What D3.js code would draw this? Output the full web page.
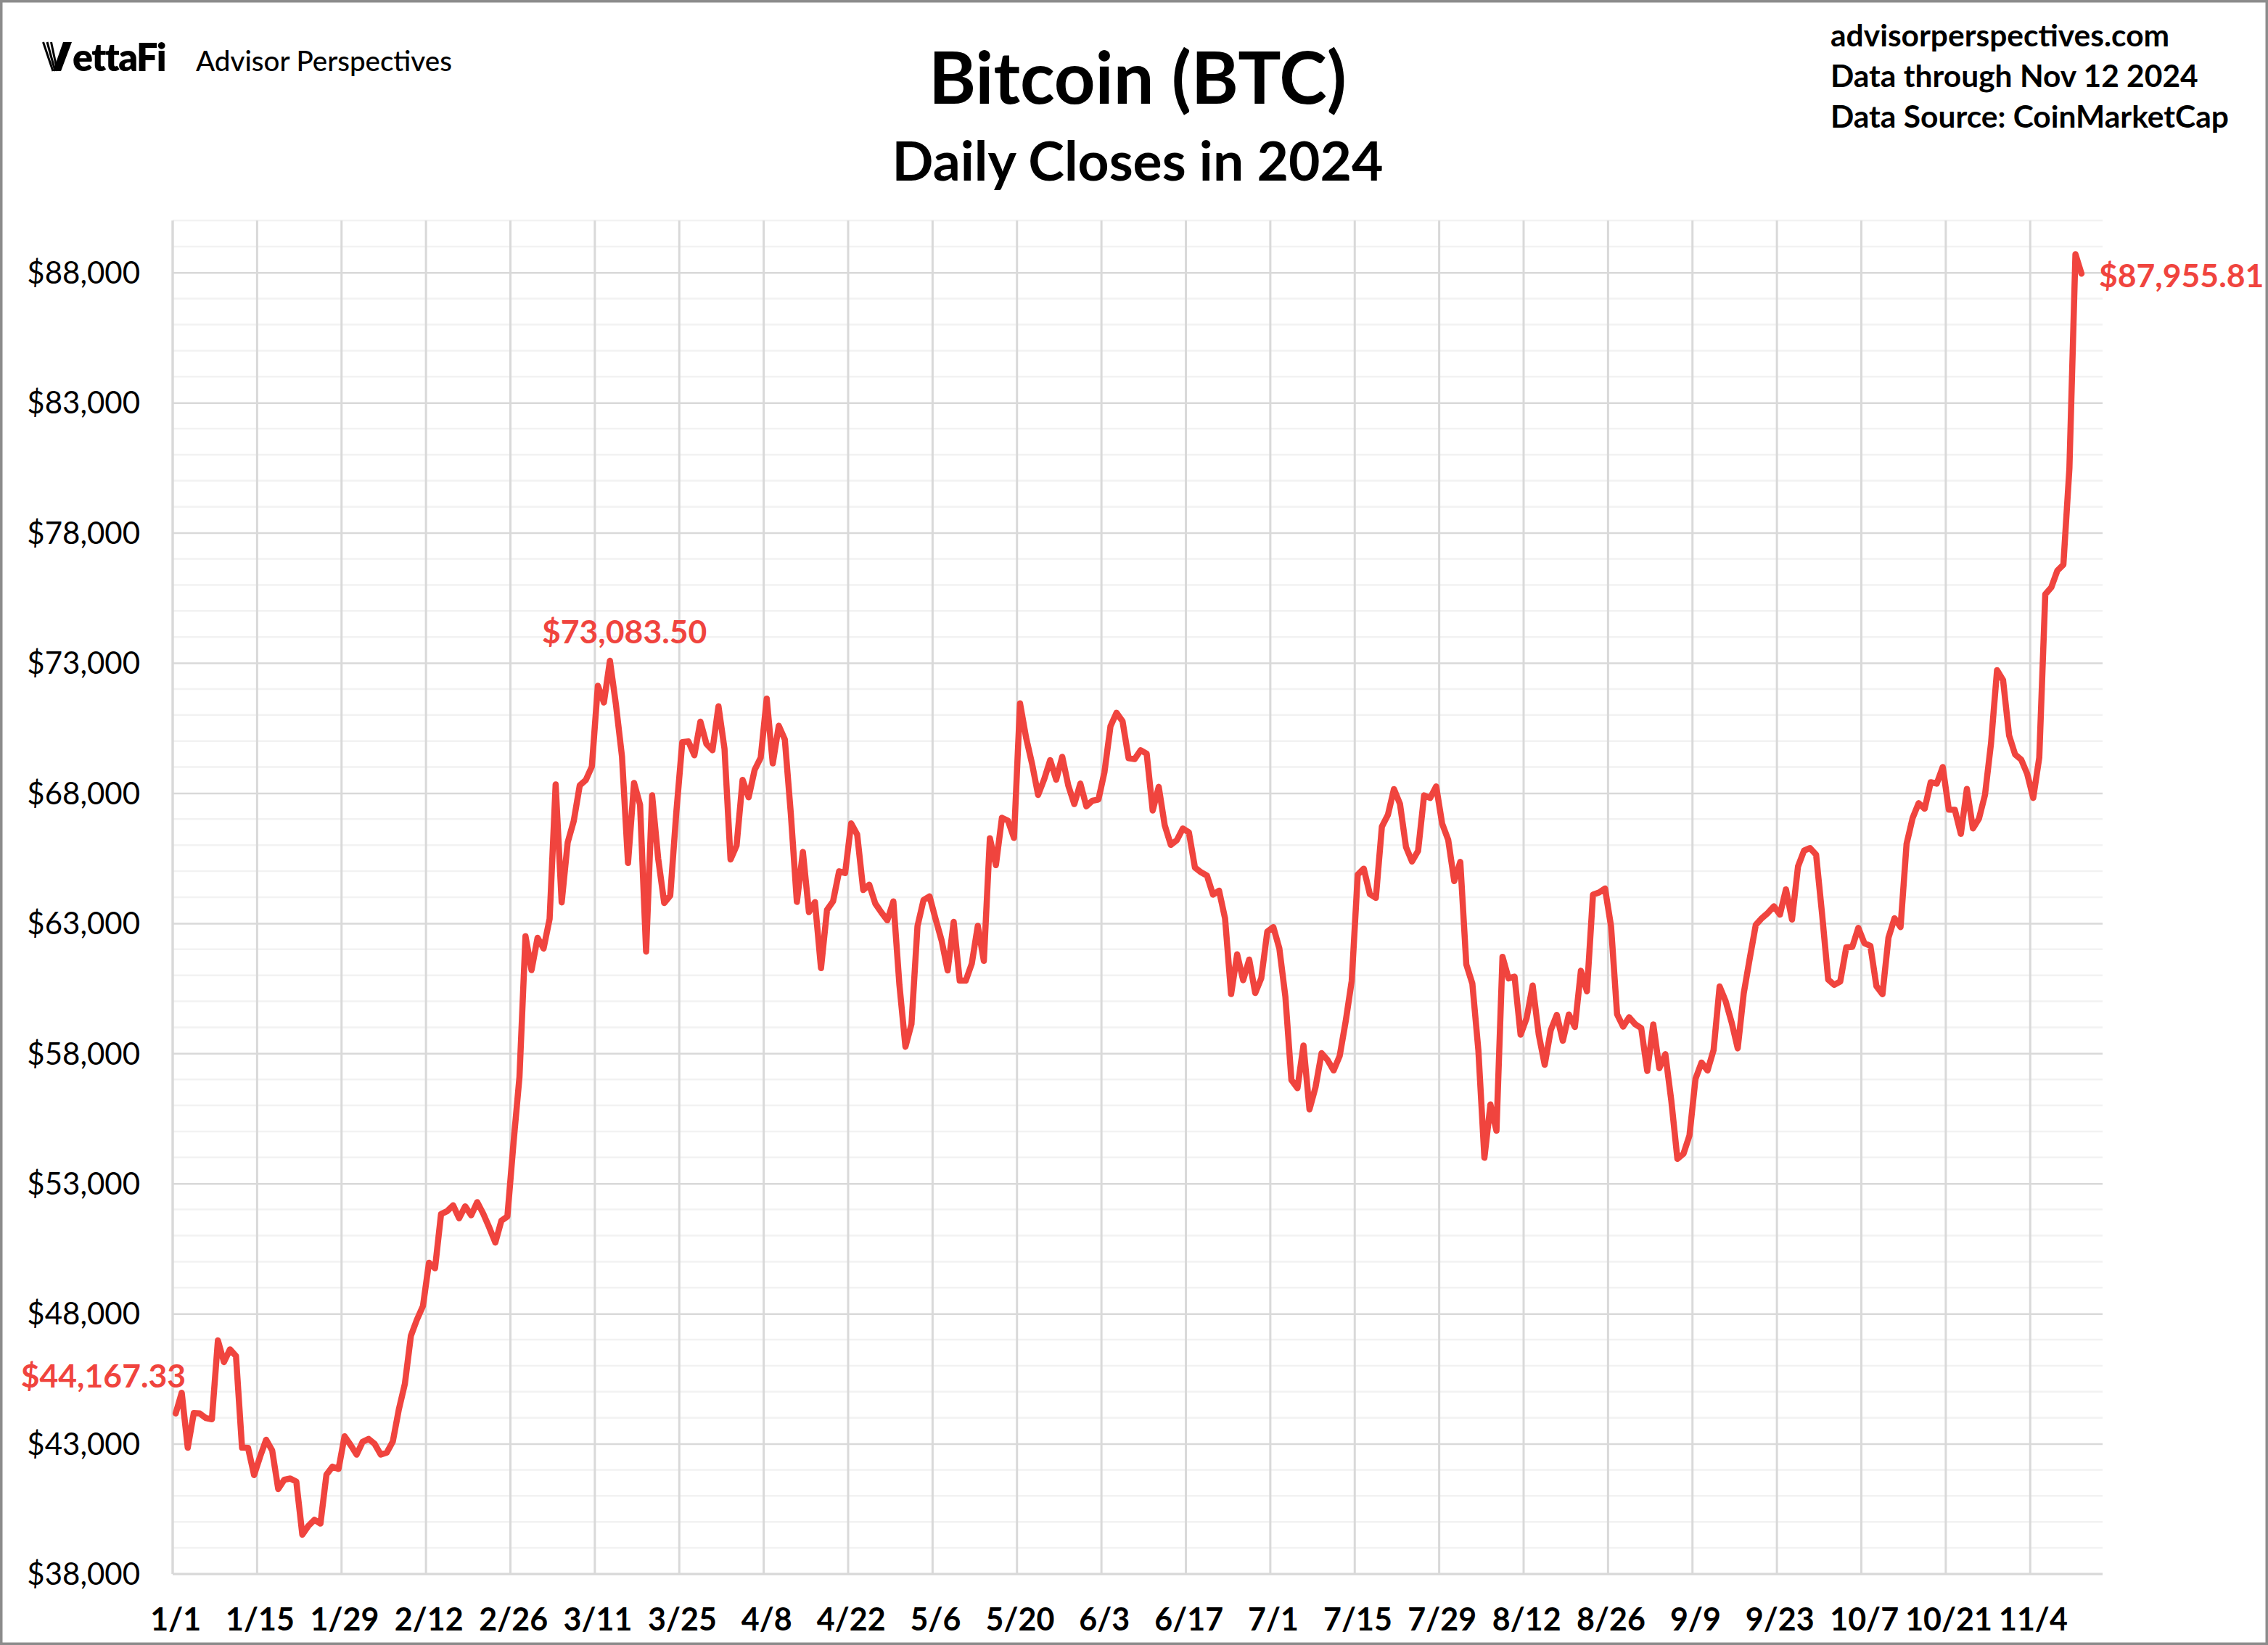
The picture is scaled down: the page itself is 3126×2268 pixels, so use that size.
<!DOCTYPE html>
<html>
<head>
<meta charset="utf-8">
<title>Bitcoin (BTC) - Daily Closes in 2024</title>
<script src="https://cdnjs.cloudflare.com/ajax/libs/d3/7.8.5/d3.min.js"></script>
<style>
  html, body { margin: 0; padding: 0; background: #fff; }
  svg { display: block; }
  text { font-family: Lato, "Open Sans", sans-serif; }
</style>
</head>
<body>
<svg id="chart"></svg>
<script>
// Daily closes (USD), one array per month
const jan = [44167.33, 44957.97, 42848.18, 44179.92, 44162.69, 43989.19, 43943.10, 46970.50, 46139.73, 46627.78,
  46368.59, 42853.17, 42842.38, 41796.27, 42511.97, 43154.95, 42742.65, 41262.06, 41618.41, 41665.59,
  41545.79, 39507.37, 39845.55, 40077.07, 39933.81, 41816.87, 42120.05, 42035.59, 43288.25, 42952.61, 42582.61];
const feb = [43075.77, 43185.86, 42992.25, 42583.58, 42658.67, 43084.67, 44318.22, 45301.57, 47147.20, 47771.28,
  48293.92, 49958.22, 49742.44, 51826.70, 51938.55, 52160.20, 51662.99, 52122.55, 51779.14, 52284.88,
  51839.18, 51304.97, 50731.95, 51571.10, 51733.24, 54522.40, 57085.37, 62504.79, 61198.38];
const mar = [62440.63, 62029.85, 63167.37, 68330.41, 63801.20, 66106.80, 66925.48, 68300.09, 68498.88, 69019.79,
  72123.91, 71481.29, 73083.50, 71396.59, 69403.77, 65315.12, 68390.63, 67548.59, 61912.77, 67913.67,
  65491.39, 63778.76, 64062.20, 67234.17, 69958.81, 69987.84, 69455.34, 70744.95, 69892.83, 69645.30, 71333.65];
const apr = [69702.15, 65446.97, 65980.81, 68508.84, 67837.64, 68896.11, 69362.55, 71631.36, 69139.02, 70587.88,
  70060.61, 67195.87, 63821.47, 65738.73, 63426.21, 63811.86, 61276.69, 63512.75, 63843.57, 64994.44,
  64926.64, 66837.68, 66407.27, 64276.90, 64481.71, 63755.32, 63419.14, 63113.23, 63841.12, 60636.86];
const may = [58254.01, 59123.43, 62889.84, 63891.47, 64031.13, 63161.95, 62334.82, 61187.94, 63049.96, 60792.78,
  60793.71, 61448.39, 62901.45, 61552.79, 66267.49, 65231.58, 67051.88, 66940.80, 66278.37, 71448.20,
  70136.53, 69122.34, 67929.56, 68526.10, 69265.95, 68518.09, 69394.55, 68296.22, 67578.09, 68364.99, 67491.41];
const jun = [67706.94, 67751.60, 68804.78, 70567.77, 71082.82, 70757.16, 69342.59, 69305.77, 69647.99, 69512.28,
  67332.03, 68241.19, 66756.40, 66011.09, 66191.00, 66639.05, 66490.30, 65140.75, 64960.30, 64828.66,
  64096.20, 64252.58, 63180.80, 60277.41, 61804.64, 60811.28, 61604.80, 60320.14, 60887.38, 62678.29];
const jul = [62851.98, 62029.02, 60173.92, 56977.70, 56662.38, 58303.54, 55849.11, 56705.10, 58009.23, 57742.50,
  57344.91, 57899.46, 59231.95, 60787.79, 64870.15, 65097.15, 64118.79, 63974.07, 66710.16, 67163.65,
  68154.52, 67585.25, 65927.67, 65372.13, 65777.23, 67912.06, 67813.34, 68255.87, 66819.91, 66201.02, 64619.25];
const aug = [65357.50, 61415.07, 60680.09, 58116.98, 53991.46, 56034.32, 55027.46, 61710.14, 60880.11, 60945.81,
  58719.48, 59354.52, 60609.57, 58737.27, 57560.10, 58894.11, 59478.97, 58483.96, 59493.45, 59012.80,
  61175.19, 60381.91, 64094.36, 64178.99, 64333.54, 62880.66, 59504.13, 59027.62, 59388.18, 59119.48, 58969.90];
const sep = [57325.49, 59112.48, 57431.02, 57971.54, 56160.49, 53948.75, 54139.69, 54841.57, 57019.53, 57648.71,
  57343.17, 58127.01, 60571.30, 60005.12, 59182.84, 58192.51, 60308.54, 61649.68, 62940.46, 63192.98,
  63394.84, 63648.71, 63329.80, 64301.97, 63143.14, 65181.02, 65790.66, 65887.65, 65635.30, 63329.50];
const oct = [60837.01, 60632.79, 60759.40, 62067.48, 62089.95, 62818.95, 62236.66, 62131.97, 60582.10, 60274.50,
  62445.09, 63193.02, 62851.38, 66046.13, 67041.11, 67612.72, 67399.84, 68418.79, 68362.73, 69001.70,
  67367.85, 67361.41, 66432.20, 68161.05, 66642.41, 67014.70, 67929.30, 69907.76, 72720.49, 72339.54, 70215.19];
const nov = [69482.47, 69289.27, 68741.12, 67811.51, 69359.56, 75639.08, 75904.86, 76545.48, 76778.87, 80474.19,
  88701.48, 87955.81];

const tickLabels = ['1/1', '1/15', '1/29', '2/12', '2/26', '3/11', '3/25', '4/8', '4/22', '5/6', '5/20', '6/3',
  '6/17', '7/1', '7/15', '7/29', '8/12', '8/26', '9/9', '9/23', '10/7', '10/21', '11/4'];
const yTicks = [38000, 43000, 48000, 53000, 58000, 63000, 68000, 73000, 78000, 83000, 88000];

const closes = [].concat(jan, feb, mar, apr, may, jun, jul, aug, sep, oct, nov);

const width = 3126, height = 2268;
const plot = { left: 238, right: 2898, top: 304, bottom: 2170 };
const red = '#f0443e';
const gridMajor = '#d9d9d9', gridMinor = '#f2f2f2';

// the axis runs through 11/15, data ends 11/12
const days = d3.timeDay.range(new Date(2024, 0, 1), new Date(2024, 10, 16));
const data = closes.map((v, i) => ({ date: days[i], value: v }));
const parseTick = d3.timeParse('%Y/%m/%d');
const tickDates = tickLabels.map(t => parseTick('2024/' + t));

const x = d3.scaleBand().domain(days).range([plot.left, plot.right]).paddingInner(0).paddingOuter(0);
const y = d3.scaleLinear().domain([38000, 90000]).range([plot.bottom, plot.top]);
const cx = d => x(d) + x.bandwidth() / 2;

const svg = d3.select('#chart').attr('width', width).attr('height', height);
svg.append('rect').attr('width', width).attr('height', height).attr('fill', '#fff');

// minor horizontal grid
const minorVals = d3.range(39000, 90001, 1000).filter(v => !yTicks.includes(v));
svg.append('g').selectAll('line').data(minorVals).join('line')
  .attr('x1', plot.left).attr('x2', plot.right)
  .attr('y1', d => y(d)).attr('y2', d => y(d))
  .attr('stroke', gridMinor).attr('stroke-width', 2.5);

// vertical grid at category edges
svg.append('g').selectAll('line').data(tickDates).join('line')
  .attr('x1', d => x(d)).attr('x2', d => x(d))
  .attr('y1', plot.top).attr('y2', plot.bottom)
  .attr('stroke', gridMajor).attr('stroke-width', 3);

// y axis with major grid
const yAxis = svg.append('g')
  .attr('transform', `translate(${plot.left},0)`)
  .call(d3.axisLeft(y).tickValues(yTicks).tickFormat(d3.format('$,.0f'))
    .tickSize(-(plot.right - plot.left)).tickPadding(45));
yAxis.select('.domain').remove();
yAxis.selectAll('line').attr('stroke', gridMajor).attr('stroke-width', 2.5);
yAxis.selectAll('text').attr('font-family', 'Lato, sans-serif').attr('font-size', 42)
  .attr('fill', '#000').attr('dy', '0.35em');

// x axis
const xAxis = svg.append('g')
  .attr('transform', `translate(0,${plot.bottom})`)
  .call(d3.axisBottom(x).tickValues(tickDates).tickFormat((d, i) => tickLabels[i])
    .tickSize(0).tickPadding(47));
xAxis.select('.domain').remove();
xAxis.selectAll('text').attr('font-family', 'Lato, sans-serif').attr('font-size', 43)
  .attr('font-weight', 700).attr('fill', '#000');

// axis lines
svg.append('line').attr('x1', plot.left).attr('x2', plot.right)
  .attr('y1', plot.bottom).attr('y2', plot.bottom)
  .attr('stroke', gridMajor).attr('stroke-width', 3);
svg.append('line').attr('x1', plot.left).attr('x2', plot.left)
  .attr('y1', plot.top).attr('y2', plot.bottom)
  .attr('stroke', gridMajor).attr('stroke-width', 3);

// price line
const line = d3.line().x(d => cx(d.date)).y(d => y(d.value));
svg.append('path').datum(data)
  .attr('d', line)
  .attr('fill', 'none').attr('stroke', red).attr('stroke-width', 8.5)
  .attr('stroke-linejoin', 'round').attr('stroke-linecap', 'round');

// value labels: first, peak of March, last
const money = d3.format('$,.2f');
const first = data[0];
const peak = data.slice(0, 120).reduce((a, b) => (b.value > a.value ? b : a));
const last = data[data.length - 1];
const labels = [
  { d: first, dx: 14, dy: -36, anchor: 'end' },
  { d: peak, dx: 20, dy: -24, anchor: 'middle' },
  { d: last, dx: 24, dy: 19, anchor: 'start' }
];
svg.append('g').selectAll('text').data(labels).join('text')
  .attr('x', l => cx(l.d.date) + l.dx)
  .attr('y', l => y(l.d.value) + l.dy)
  .attr('text-anchor', l => l.anchor)
  .attr('font-size', 44.5).attr('font-weight', 700).attr('fill', red)
  .text(l => money(l.d.value));

// titles
svg.append('text').attr('x', 1568).attr('y', 143).attr('text-anchor', 'middle')
  .attr('font-size', 99).attr('font-weight', 700).attr('fill', '#000')
  .text('Bitcoin (BTC)');
svg.append('text').attr('x', 1568).attr('y', 249).attr('text-anchor', 'middle')
  .attr('font-size', 75).attr('font-weight', 700).attr('fill', '#000')
  .text('Daily Closes in 2024');

// source block
const source = ['advisorperspectives.com', 'Data through Nov 12 2024', 'Data Source: CoinMarketCap'];
svg.append('g').selectAll('text').data(source).join('text')
  .attr('x', 2523).attr('y', (d, i) => 64 + i * 56)
  .attr('font-size', 42.5).attr('font-weight', 700).attr('fill', '#000')
  .text(d => d);

// logo
const logo = svg.append('g');
logo.append('path').attr('d', 'M87,58 L99,58 L84,98 L73,98 Z').attr('fill', '#000');
[[59.5, 73], [65, 76], [70.5, 79]].forEach(([t, b]) => {
  logo.append('line').attr('x1', t).attr('y1', 58).attr('x2', b).attr('y2', 98)
    .attr('stroke', '#000').attr('stroke-width', 3);
});
logo.append('text').attr('x', 100).attr('y', 98)
  .attr('font-family', 'Inter, sans-serif').attr('font-size', 52).attr('font-weight', 800)
  .attr('letter-spacing', -1.5).attr('fill', '#000').text('ettaFi');
logo.append('text').attr('x', 270).attr('y', 98)
  .attr('font-family', 'Inter, sans-serif').attr('font-size', 38.5).attr('font-weight', 500)
  .attr('fill', '#000').text('Advisor Perspectives');

// frame
svg.append('rect').attr('x', 1.5).attr('y', 1.5).attr('width', width - 3).attr('height', height - 3)
  .attr('fill', 'none').attr('stroke', '#8c8c8c').attr('stroke-width', 4);
</script>
</body>
</html>
